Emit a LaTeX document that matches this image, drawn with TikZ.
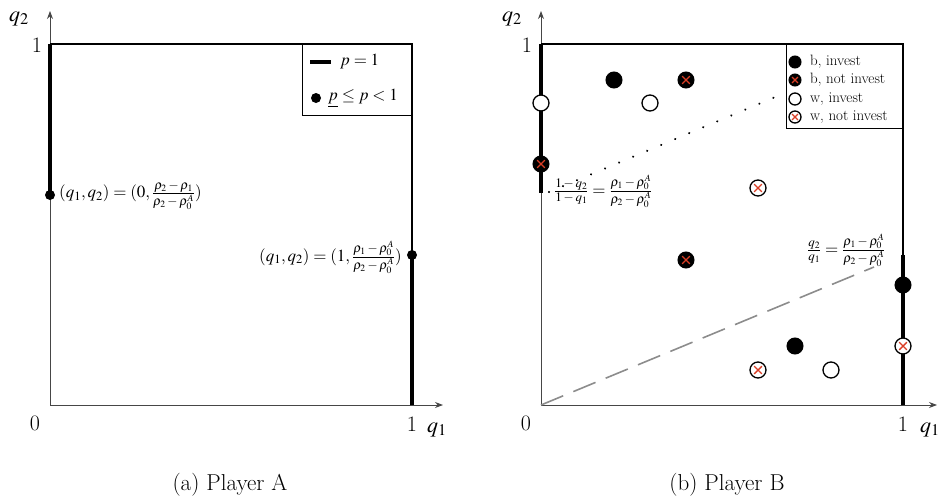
\documentclass[tikz,border=0pt]{standalone}
\usepackage{mathptmx}
\usetikzlibrary{arrows.meta}
\definecolor{xred}{RGB}{218,62,38}
\definecolor{axisgray}{RGB}{70,70,70}
\definecolor{dashgray}{RGB}{140,140,140}
\newcommand{\axisfont}{\fontsize{22}{25}\selectfont}
\newcommand{\numfont}{\fontfamily{cmr}\fontsize{22}{25}\selectfont}
\newcommand{\notefont}{\fontsize{17}{19}\selectfont}
% fraction whose parts are set in a smaller text-style font
\newcommand{\smfrac}[2]{\frac{\mbox{\fontsize{13}{14}\selectfont$#1$}}{\mbox{\fontsize{13}{14}\selectfont$#2$}}}
\begin{document}
\begin{tikzpicture}[x=1pt,y=-1pt,
  axis/.style={draw=axisgray, line width=0.9pt, -{Stealth[length=8pt,width=6pt]}},
  frame/.style={draw=black, line width=1.2pt},
  segbar/.style={line width=4.6pt, line cap=butt},
  blackdot/.style={circle, fill=black, inner sep=0pt, minimum size=10pt},
  redcross/.style={path picture={
      \draw[xred, line width=1.4pt]
        ([shift={(-#1,-#1)}]path picture bounding box.center) -- ([shift={(#1,#1)}]path picture bounding box.center)
        ([shift={(-#1,#1)}]path picture bounding box.center) -- ([shift={(#1,-#1)}]path picture bounding box.center);}},
  binv/.style={circle, fill=black, draw=black, line width=1pt, inner sep=0pt, minimum size=#1},
  bnot/.style={binv=#1, redcross=0.24*#1},
  winv/.style={circle, fill=white, draw=black, line width=1.3pt, inner sep=0pt, minimum size=#1},
  wnot/.style={winv=#1, redcross=0.24*#1},
  note/.style={font=\notefont, inner sep=1pt},
  legtextA/.style={font=\fontsize{17}{19}\selectfont, anchor=west, inner sep=0pt},
  legtextB/.style={font=\fontsize{15}{17}\selectfont, anchor=west, inner sep=0pt},
  axlabel/.style={font=\axisfont, inner sep=0pt},
  numlabel/.style={font=\numfont, inner sep=0pt},
  caption/.style={font=\fontsize{23}{26}\selectfont, inner sep=0pt},
  dotline/.style={line width=2.3pt, line cap=round, dash pattern=on 0.01pt off 15.2pt},
  dashline/.style={draw=dashgray, line width=1.6pt, dash pattern=on 24pt off 11pt}
]
\useasboundingbox (0,0) rectangle (938,498);

% ---------------- panel (a) ----------------
\coordinate (OA) at (50,405);
\coordinate (XA) at (443,405);
\coordinate (YA) at (50,11);
\coordinate (TLA) at (50,44);
\coordinate (TRA) at (412,44);
\coordinate (BRA) at (412,405);
\draw[axis] (OA) -- (XA);
\draw[axis] (OA) -- (YA);
\draw[frame] (TLA) -- (TRA) -- (BRA);

\node[blackdot] (pA0) at (50,195) {};
\node[blackdot] (pA1) at (412,255) {};
\draw[segbar] (TLA) -- (pA0.center);
\draw[segbar] (BRA) -- (pA1.center);

\node[note, anchor=west] (nA0) at (58,196)
  {$(q_1,q_2)=(0,\smfrac{\rho_2-\rho_1}{\rho_2-\rho_0^A})$};
\node[note, anchor=east] (nA1) at (403,257)
  {$(q_1,q_2)=(1,\smfrac{\rho_1-\rho_0^A}{\rho_2-\rho_0^A})$};

% legend (a)
\node[frame, anchor=north east, minimum width=109pt, minimum height=71pt, inner sep=0pt] (legA) at (TRA) {};
\coordinate (barL) at (310,62);
\coordinate (barR) at (331,62);
\draw[segbar] (barL) -- (barR);
\node[legtextA] (legA1) at (340,62) {$p=1$};
\node[blackdot] (legdotA) at (316,98) {};
\node[legtextA] (legA2) at (328,98) {$\underline{p}\le p<1$};

\node[axlabel] (q2A) at (19,19) {$q_2$};
\node[numlabel] (oneyA) at (37,45) {1};
\node[numlabel] (zeroA) at (35,423) {0};
\node[numlabel] (onexA) at (412,424) {1};
\node[axlabel] (q1A) at (437,430) {$q_1$};
\node[caption] (capA) at (230,485) {(a) Player A};

% ---------------- panel (b) ----------------
\coordinate (OB) at (541,405);
\coordinate (XB) at (937,405);
\coordinate (YB) at (541,11);
\coordinate (TLB) at (541,44);
\coordinate (TRB) at (903,44);
\coordinate (BRB) at (903,405);
\coordinate (lowL) at (541,193);
\coordinate (highR) at (903,255);
\draw[axis] (OB) -- (XB);
\draw[axis] (OB) -- (YB);
\draw[frame] (TLB) -- (TRB) -- (BRB);
\draw[segbar] (TLB) -- (lowL);
\draw[segbar] (BRB) -- (highR);

% threshold lines
\coordinate (dotS) at (549,192);
\coordinate (dotE) at (780,95);
\draw[dotline] (dotS) -- (dotE);
\coordinate (dashE) at (874,267);
\draw[dashline] (OB) -- (dashE);

\node[note, anchor=west] (nB0) at (553,191)
  {$\smfrac{1-q_2}{1-q_1}=\smfrac{\rho_1-\rho_0^A}{\rho_2-\rho_0^A}$};
\node[note, anchor=west] (nB1) at (806,250)
  {$\smfrac{q_2}{q_1}=\smfrac{\rho_1-\rho_0^A}{\rho_2-\rho_0^A}$};

% outcomes
\node[binv=16pt] (b1) at (614,80) {};
\node[binv=16pt] (b2) at (795,346) {};
\node[binv=16pt] (b3) at (903,285) {};
\node[bnot=16pt] (c1) at (686,80) {};
\node[bnot=16pt] (c2) at (541,164) {};
\node[bnot=16pt] (c3) at (686,260) {};
\node[winv=16pt] (w1) at (541,103) {};
\node[winv=16pt] (w2) at (650,103) {};
\node[winv=16pt] (w3) at (831,370) {};
\node[wnot=16pt] (x1) at (758,188) {};
\node[wnot=16pt] (x2) at (758,370) {};
\node[wnot=16pt] (x3) at (903,346) {};

% legend (b)
\node[frame, fill=white, anchor=north east, minimum width=116pt, minimum height=84pt, inner sep=0pt] (legB) at (TRB) {};
\node[binv=12pt] (lb1) at (795,62) {};
\node[bnot=12pt] (lb2) at (795,80) {};
\node[winv=12pt] (lb3) at (795,99) {};
\node[wnot=12pt] (lb4) at (795,117) {};
\node[legtextB] (tb1) at (810,62) {b, invest};
\node[legtextB] (tb2) at (810,80) {b, not invest};
\node[legtextB] (tb3) at (810,99) {w, invest};
\node[legtextB] (tb4) at (810,117) {w, not invest};

\node[axlabel] (q2B) at (512,19) {$q_2$};
\node[numlabel] (oneyB) at (527,45) {1};
\node[numlabel] (zeroB) at (526,423) {0};
\node[numlabel] (onexB) at (903,424) {1};
\node[axlabel] (q1B) at (930,430) {$q_1$};
\node[caption] (capB) at (727,485) {(b) Player B};
\end{tikzpicture}
\end{document}
